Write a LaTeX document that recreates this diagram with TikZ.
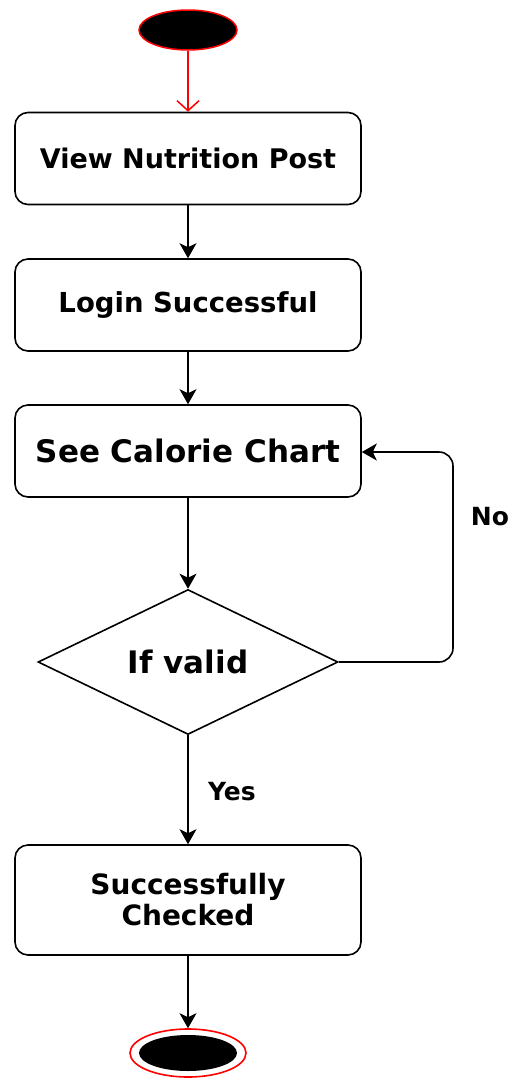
\documentclass[tikz,border=0pt]{standalone}
\usepackage{fontspec}
\setmainfont{DejaVu Sans}
\usetikzlibrary{shapes.geometric,arrows.meta}
\begin{document}
\begin{tikzpicture}[x=1pt,y=-1pt,
  actbox/.style={draw,line width=1.6pt,rounded corners=13pt,minimum width=346pt,minimum height=92pt,font=\bfseries\fontsize{27}{30}\selectfont,align=center,inner sep=0pt},
  conn/.style={line width=1.6pt,-{Stealth[length=15pt,width=17pt,inset=4pt]}},
  lbl/.style={font=\bfseries\fontsize{25}{28}\selectfont}]
\useasboundingbox (0,0) rectangle (512,1082);
\node[ellipse,draw=red,fill=black,line width=1.5pt,minimum width=98pt,minimum height=40pt,inner sep=0pt] (start) at (188,30) {};
\node[actbox] (b1) at (188,158.5) {View Nutrition Post};
\node[actbox,font=\bfseries\fontsize{27.5}{30}\selectfont] (b2) at (188,305) {Login Successful};
\node[actbox,font=\bfseries\fontsize{31}{34}\selectfont] (b3) at (188,451) {See Calorie Chart};
\node[diamond,draw,line width=1.6pt,aspect=2.07,minimum width=300pt,minimum height=145pt,inner sep=0pt,font=\bfseries\fontsize{31}{34}\selectfont] (d) at (188,662) {If valid};
\node[actbox,minimum height=110pt,font=\bfseries\fontsize{28}{31}\selectfont] (b4) at (188,900) {Successfully\\Checked};
\node[ellipse,draw=red,line width=1.6pt,minimum width=116pt,minimum height=48pt,inner sep=0pt] (endo) at (188,1053) {};
\node[ellipse,fill=black,minimum width=98pt,minimum height=36pt,inner sep=0pt] (endi) at (188,1053) {};
\draw[red,line width=1.5pt,-{Straight Barb[length=10pt,width=22pt]}] (start) -- (b1);
\draw[conn] (b1) -- (b2);
\draw[conn] (b2) -- (b3);
\draw[conn] (b3) -- (d);
\draw[conn] (d) -- node[lbl,right=16pt,pos=0.52] (yes) {Yes} (b4);
\draw[conn] (b4) -- (endo);
\coordinate (c1) at (453,662);
\coordinate (c2) at (453,452);
\draw[conn,rounded corners=14pt] (d.east) -- (c1) -- (c2) -- (b3.east |- c2);
\node[lbl] (no) at (490,517) {No};
\end{tikzpicture}
\end{document}
